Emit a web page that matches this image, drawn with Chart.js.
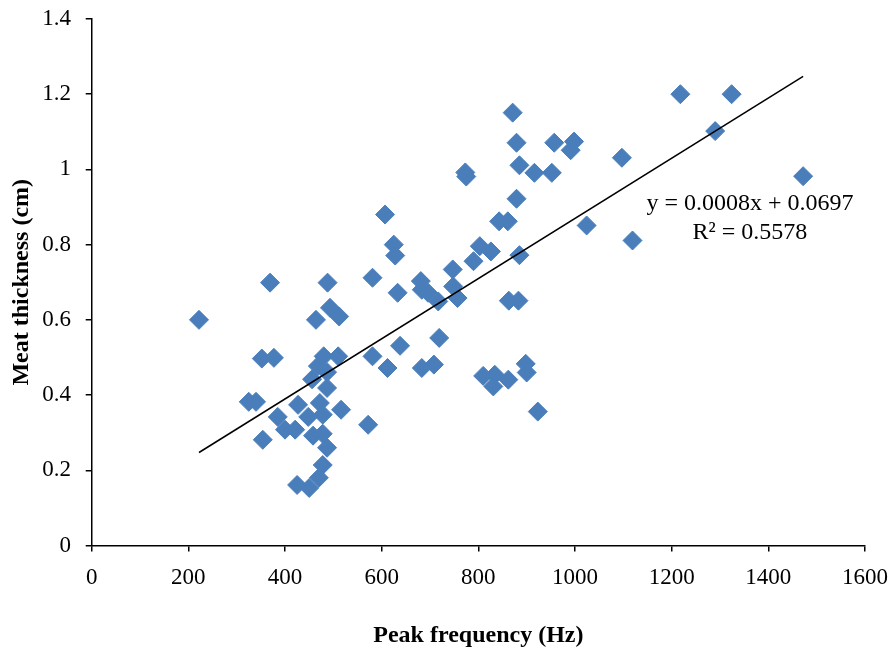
<!DOCTYPE html>
<html>
<head>
<meta charset="utf-8">
<script src="https://cdn.jsdelivr.net/npm/chart.js@4/dist/chart.umd.min.js"></script>
<style>
  html, body { margin: 0; padding: 0; background: #fff; }
  #chart { display: block; }
</style>
</head>
<body>
<canvas id="chart" width="891" height="652"></canvas>
<script>
// values
const peakFreq = [
  222, 369, 488, 493, 512, 464, 352, 377, 480, 510,
  468, 487, 456, 487, 427, 472, 516, 385, 448, 478,
  400, 421, 458, 478, 487, 478, 470, 425, 450, 354,
  325, 340, 572, 581, 581, 607, 625, 628, 633, 638,
  612, 681, 683, 696, 717, 719, 683, 708, 747, 748,
  757, 773, 775, 790, 803, 826, 810, 834, 831, 862,
  843, 861, 871, 879, 885, 879, 885, 863, 883, 898,
  900, 923, 916, 952, 957, 998, 991, 1024, 1097, 1119,
  1218, 1290, 1324, 1472
];
const meatThick = [
  0.600, 0.699, 0.699, 0.632, 0.609, 0.600, 0.497, 0.499, 0.503, 0.503,
  0.477, 0.461, 0.442, 0.419, 0.374, 0.379, 0.361, 0.342, 0.342, 0.348,
  0.308, 0.308, 0.292, 0.297, 0.260, 0.214, 0.180, 0.161, 0.153, 0.281,
  0.382, 0.382, 0.321, 0.712, 0.503, 0.880, 0.800, 0.771, 0.672, 0.531,
  0.472, 0.703, 0.680, 0.672, 0.649, 0.552, 0.472, 0.481, 0.734, 0.689,
  0.658, 0.992, 0.981, 0.756, 0.796, 0.782, 0.451, 0.454, 0.423, 0.441,
  0.862, 0.862, 1.151, 1.071, 1.011, 0.922, 0.772, 0.651, 0.651, 0.483,
  0.460, 0.356, 0.991, 0.991, 1.071, 1.074, 1.051, 0.851, 1.031, 0.811,
  1.200, 1.102, 1.200, 0.982
];

// trendline from the equation printed on the chart
const slope = 0.0008;
const intercept = 0.0697;
const eqText = ['y = 0.0008x + 0.0697', 'R\u00b2 = 0.5578'];
const eqPos = [[1362, 0.909], [1362, 0.832]];

const xTicks = [0, 200, 400, 600, 800, 1000, 1200, 1400, 1600];
const yTicks = [0, 0.2, 0.4, 0.6, 0.8, 1, 1.2, 1.4];

const points = peakFreq.map((f, i) => ({ x: f, y: meatThick[i] }));
const xMin = Math.min(...peakFreq);
const xMax = Math.max(...peakFreq);
const trend = [xMin, xMax].map(x => ({ x: x, y: slope * x + intercept }));

const serif = '"Liberation Serif", "Times New Roman", serif';
Chart.defaults.color = '#000';
Chart.defaults.font.family = serif;

const equationLabel = {
  id: 'equationLabel',
  afterDatasetsDraw(chart) {
    const ctx = chart.ctx;
    const xs = chart.scales.x, ys = chart.scales.y;
    ctx.save();
    ctx.font = '24px ' + serif;
    ctx.fillStyle = '#000';
    ctx.textAlign = 'center';
    ctx.textBaseline = 'middle';
    eqText.forEach((t, i) => {
      ctx.fillText(t, xs.getPixelForValue(eqPos[i][0]), ys.getPixelForValue(eqPos[i][1]));
    });
    ctx.restore();
  }
};

// keep the plot box where the reference has it: no extra room for label overhang
function fixX(s) {
  s.height = 106.5;
  s.paddingLeft = 0; s.paddingRight = 0;
}
function fixY(s) {
  s.width = 91.7;
  s.paddingTop = 0; s.paddingBottom = 0;
}

new Chart(document.getElementById('chart'), {
  type: 'scatter',
  data: {
    datasets: [
      {
        type: 'line',
        data: trend,
        borderColor: '#000',
        borderWidth: 1.5,
        pointRadius: 0,
        fill: false,
        order: 0
      },
      {
        data: points,
        pointStyle: 'rectRot',
        pointRadius: 9.5,
        pointBackgroundColor: '#4a7ebb',
        pointBorderColor: '#4a7ebb',
        pointBorderWidth: 1,
        order: 1
      }
    ]
  },
  options: {
    responsive: false,
    animation: false,
    devicePixelRatio: 1,
    layout: { padding: { left: 0, top: 19, right: 26, bottom: 0 } },
    plugins: { legend: { display: false }, tooltip: { enabled: false } },
    scales: {
      x: {
        type: 'linear',
        min: 0, max: 1600,
        afterBuildTicks: s => { s.ticks = xTicks.map(v => ({ value: v })); },
        afterFit: fixX,
        ticks: { font: { size: 23 }, padding: 13, maxRotation: 0, callback: v => String(v) },
        grid: { drawOnChartArea: false, drawTicks: true, tickLength: 6, color: '#000', lineWidth: 1.5 },
        border: { color: '#000', width: 1.5 },
        title: {
          display: true,
          text: 'Peak frequency (Hz)',
          font: { size: 24, weight: 'bold' },
          padding: { top: 0, bottom: 2 }
        }
      },
      y: {
        min: 0, max: 1.4,
        afterBuildTicks: s => { s.ticks = yTicks.map(v => ({ value: v })); },
        afterFit: fixY,
        ticks: { font: { size: 23 }, padding: 14.7, callback: v => String(+v.toFixed(1)) },
        grid: { drawOnChartArea: false, drawTicks: true, tickLength: 6, color: '#000', lineWidth: 1.5 },
        border: { color: '#000', width: 1.5 },
        title: {
          display: true,
          text: 'Meat thickness (cm)',
          font: { size: 24, weight: 'bold' },
          padding: { top: 7, bottom: 0 }
        }
      }
    }
  },
  plugins: [equationLabel]
});
</script>
</body>
</html>
